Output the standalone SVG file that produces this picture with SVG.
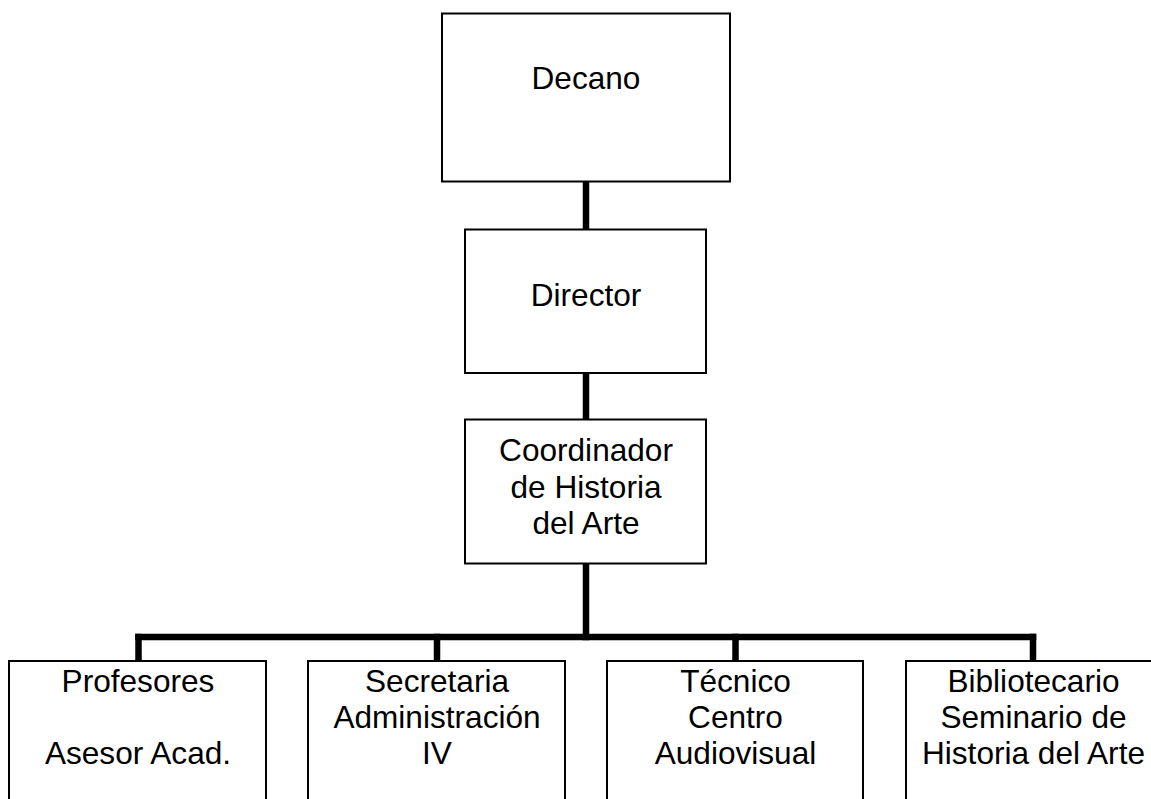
<svg xmlns="http://www.w3.org/2000/svg" width="1151" height="799" viewBox="0 0 1151 799">
<style>
.box{fill:#fff;stroke:#000;stroke-width:2}
.lbl{font-family:"Liberation Sans",Arial,sans-serif;font-size:31.6px;fill:#000;text-anchor:middle}
.conn{stroke:#000;stroke-width:6.5;fill:none;stroke-linecap:square}
</style>
<rect width="1151" height="799" fill="#fff"/>
<g id="connectors">
<line class="conn" x1="586" y1="182" x2="586" y2="228"/>
<line class="conn" x1="586" y1="374" x2="586" y2="418"/>
<line class="conn" x1="586" y1="564" x2="586" y2="637"/>
<line class="conn" x1="138.5" y1="637" x2="1033" y2="637"/>
<line class="conn" x1="138.5" y1="637" x2="138.5" y2="660"/>
<line class="conn" x1="437" y1="637" x2="437" y2="660"/>
<line class="conn" x1="735.5" y1="637" x2="735.5" y2="660"/>
<line class="conn" x1="1033" y1="637" x2="1033" y2="660"/>
</g>
<g id="decano">
<rect class="box" x="442" y="13.5" width="288" height="168"/>
<text class="lbl" x="586" y="89">Decano</text>
</g>
<g id="director">
<rect class="box" x="465" y="229.5" width="241" height="143.5"/>
<text class="lbl" x="586" y="306">Director</text>
</g>
<g id="coordinador">
<rect class="box" x="465" y="419.5" width="241" height="144"/>
<text class="lbl" x="586" y="461">Coordinador</text>
<text class="lbl" x="586" y="497.5">de Historia</text>
<text class="lbl" x="586" y="534">del Arte</text>
</g>
<g id="profesores">
<rect class="box" x="9" y="661" width="257" height="160"/>
<text class="lbl" x="138" y="691.5">Profesores</text>
<text class="lbl" x="138" y="764">Asesor Acad.</text>
</g>
<g id="secretaria">
<rect class="box" x="308" y="661" width="257" height="160"/>
<text class="lbl" x="437" y="691.5">Secretaria</text>
<text class="lbl" x="437" y="728">Administración</text>
<text class="lbl" x="437" y="764">IV</text>
</g>
<g id="tecnico">
<rect class="box" x="607" y="661" width="256" height="160"/>
<text class="lbl" x="735.5" y="691.5">Técnico</text>
<text class="lbl" x="735.5" y="728">Centro</text>
<text class="lbl" x="735.5" y="764">Audiovisual</text>
</g>
<g id="bibliotecario">
<rect class="box" x="906" y="661" width="257" height="160"/>
<text class="lbl" x="1033.5" y="691.5">Bibliotecario</text>
<text class="lbl" x="1033.5" y="728">Seminario de</text>
<text class="lbl" x="1033.5" y="764">Historia del Arte</text>
</g>
</svg>
